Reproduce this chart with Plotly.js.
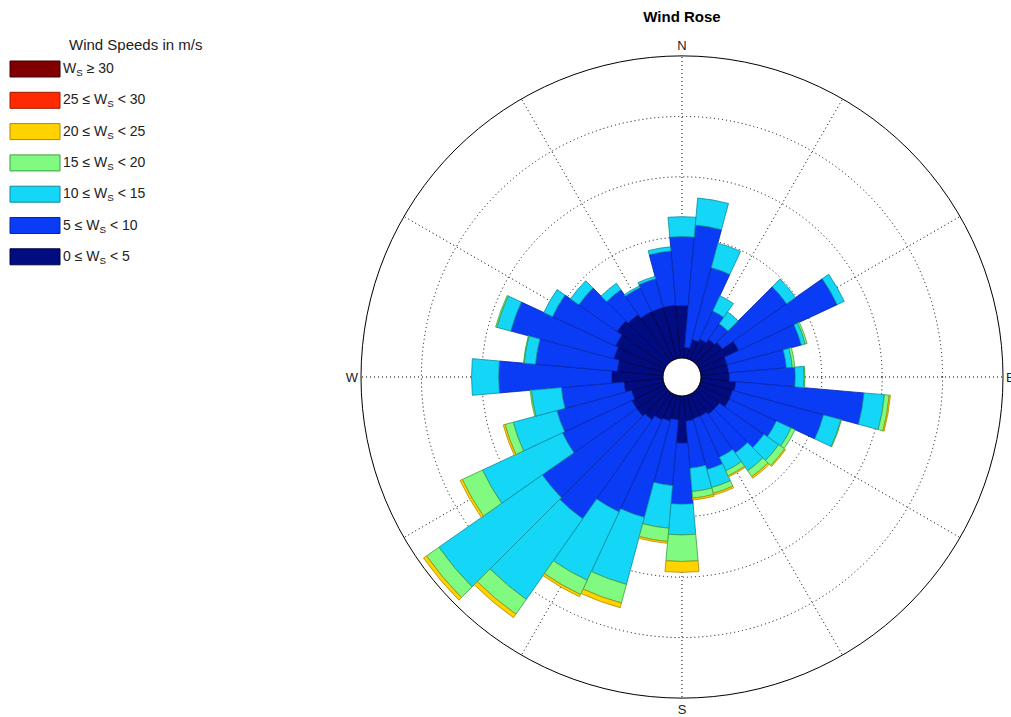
<!DOCTYPE html>
<html>
<head>
<meta charset="utf-8">
<script src="https://cdn.plot.ly/plotly-3.0.1.min.js"></script>
<style>
  html, body { margin: 0; padding: 0; background: #ffffff; }
  #chart { width: 1011px; height: 717px; }
</style>
</head>
<body>
<div id="chart"></div>
<script>
// Direction bins, degrees clockwise from north, 10 degrees wide
const directions = [0, 10, 20, 30, 40, 50, 60, 70, 80, 90, 100, 110,
                    120, 130, 140, 150, 160, 170, 180, 190, 200, 210, 220, 230,
                    240, 250, 260, 270, 280, 290, 300, 310, 320, 330, 340, 350];

// Frequency (%) of each wind speed class for every direction bin
const freq0to5 = [0.87, 0.18, 0.33, 0.38, 0.45, 0.50, 0.72, 0.46, 0.46, 0.47, 0.58, 0.55,
                  0.55, 0.44, 0.44, 0.40, 0.40, 0.42, 0.78, 0.40, 0.44, 0.47, 0.55, 0.60,
                  0.60, 0.55, 0.65, 0.85, 0.76, 0.85, 0.90, 1.00, 0.95, 0.88, 0.88, 0.88];
const freq5to10 = [1.14, 2.03, 1.23, 0.51, 0.31, 1.30, 1.80, 1.27, 0.96, 1.09, 2.13, 1.56,
                   0.86, 0.90, 0.78, 0.75, 0.87, 0.78, 1.01, 1.09, 1.65, 1.68, 2.00, 1.91,
                   1.27, 1.28, 1.04, 1.87, 1.36, 1.77, 1.15, 0.77, 0.50, 0.44, 0.49, 0.90];
const freq10to15 = [0.33, 0.45, 0.42, 0.28, 0.24, 0.18, 0.13, 0.07, 0.10, 0.15, 0.34, 0.30,
                    0.27, 0.30, 0.36, 0.25, 0.31, 0.39, 0.51, 0.71, 1.15, 1.25, 1.63, 2.09,
                    1.46, 0.75, 0.50, 0.45, 0.19, 0.24, 0.16, 0.17, 0.13, 0.03, 0.04, 0.07];
const freq15to20 = [0, 0, 0, 0, 0, 0, 0, 0.03, 0.04, 0.01, 0.08, 0.01,
                    0.07, 0.12, 0.12, 0.09, 0.10, 0.11, 0.44, 0.22, 0.32, 0.26, 0.30, 0.25,
                    0.37, 0.14, 0.02, 0, 0.01, 0.02, 0, 0, 0, 0, 0, 0];
const freq20to25 = [0, 0, 0, 0, 0, 0, 0, 0, 0, 0, 0.02, 0,
                    0, 0.02, 0.03, 0.02, 0.03, 0.03, 0.18, 0.03, 0.08, 0.04, 0.07, 0.06,
                    0.04, 0.03, 0, 0, 0, 0, 0, 0, 0, 0, 0, 0];
const freq25to30 = [0, 0, 0, 0, 0, 0, 0, 0, 0, 0, 0, 0,
                    0, 0, 0, 0, 0, 0, 0, 0, 0, 0, 0, 0,
                    0, 0, 0, 0, 0, 0, 0, 0, 0, 0, 0, 0];
const freq30up = [0, 0, 0, 0, 0, 0, 0, 0, 0, 0, 0, 0,
                  0, 0, 0, 0, 0, 0, 0, 0, 0, 0, 0, 0,
                  0, 0, 0, 0, 0, 0, 0, 0, 0, 0, 0, 0];

// Speed classes from calmest to strongest
const classLabels = ['0 ≤ W<sub>S</sub> &lt; 5', '5 ≤ W<sub>S</sub> &lt; 10', '10 ≤ W<sub>S</sub> &lt; 15',
                     '15 ≤ W<sub>S</sub> &lt; 20', '20 ≤ W<sub>S</sub> &lt; 25', '25 ≤ W<sub>S</sub> &lt; 30',
                     'W<sub>S</sub> ≥ 30'];
const classFreqs = [freq0to5, freq5to10, freq10to15, freq15to20, freq20to25, freq25to30, freq30up];
const fillColors = ['#000c80', '#0a3cf5', '#14d6f6', '#80fa80', '#ffd200', '#ff2a00', '#800000'];
const edgeColors = ['#000045', '#0624a8', '#0b8a9c', '#3f9e3f', '#b08a00', '#a01a00', '#400000'];

const compassTicks = [0, 30, 60, 90, 120, 150, 180, 210, 240, 270, 300, 330];
const compassText  = ['N', '', '', 'E', '', '', 'S', '', '', 'W', '', ''];

const W = 1011, H = 717;
const FONT = 'Liberation Sans, Arial, Helvetica, sans-serif';

const traces = classFreqs.map((vals, i) => ({
  type: 'barpolar',
  name: classLabels[i],
  theta: directions,
  r: vals,
  width: 10,
  marker: { color: fillColors[i], line: { color: edgeColors[i], width: 0.8 } },
  hoverinfo: 'theta+r+name',
  showlegend: false
}));

// Legend drawn as boxes and labels in the top-left corner, strongest class on top
const shapes = [];
const annotations = [];
const legendTop = 69, legendStep = 31.3, boxH = 16;
for (let k = 0; k < classLabels.length; k++) {
  const i = classLabels.length - 1 - k;
  const cy = legendTop + k * legendStep;
  shapes.push({
    type: 'rect', xref: 'paper', yref: 'paper',
    x0: 10 / W, x1: 60 / W,
    y0: 1 - (cy + boxH / 2) / H, y1: 1 - (cy - boxH / 2) / H,
    fillcolor: fillColors[i], line: { color: edgeColors[i], width: 1 }
  });
  annotations.push({
    xref: 'paper', yref: 'paper', x: 61 / W, y: 1 - cy / H,
    xanchor: 'left', yanchor: 'middle', showarrow: false,
    text: classLabels[i], font: { family: FONT, size: 14, color: '#222' }
  });
}
annotations.push({
  xref: 'paper', yref: 'paper', x: 135 / W, y: 1 - 44 / H,
  xanchor: 'center', yanchor: 'middle', showarrow: false,
  text: 'Wind Speeds in m/s', font: { family: FONT, size: 15, color: '#222' }
});

const cx = 682, cy = 377, R = 321;
const layout = {
  width: W, height: H,
  margin: { l: 0, r: 0, t: 0, b: 0 },
  paper_bgcolor: '#ffffff',
  font: { family: FONT, size: 13, color: '#222' },
  title: {
    text: '<b>Wind Rose</b>',
    x: cx / W, xanchor: 'center', y: 1 - 17 / H, yanchor: 'middle',
    font: { family: FONT, size: 15, color: '#000' }
  },
  showlegend: false,
  polar: {
    domain: { x: [(cx - R) / W, (cx + R) / W], y: [(H - cy - R) / H, (H - cy + R) / H] },
    hole: 19 / R,
    barmode: 'stack',
    bargap: 0,
    bgcolor: '#ffffff',
    radialaxis: {
      range: [0, 5], tickvals: [1, 2, 3, 4], showticklabels: false, ticks: '',
      showline: false, gridcolor: '#000', gridwidth: 1, griddash: '1px,3px',
      layer: 'above traces'
    },
    angularaxis: {
      rotation: 90, direction: 'clockwise',
      tickmode: 'array', tickvals: compassTicks, ticktext: compassText,
      ticks: '', showline: true, linecolor: '#000', linewidth: 1,
      gridcolor: '#000', gridwidth: 1, griddash: '1px,3px',
      tickfont: { family: FONT, size: 13, color: '#222' },
      layer: 'above traces'
    }
  },
  shapes: shapes,
  annotations: annotations
};

Plotly.newPlot('chart', traces, layout, { displayModeBar: false, staticPlot: true });
</script>
</body>
</html>
